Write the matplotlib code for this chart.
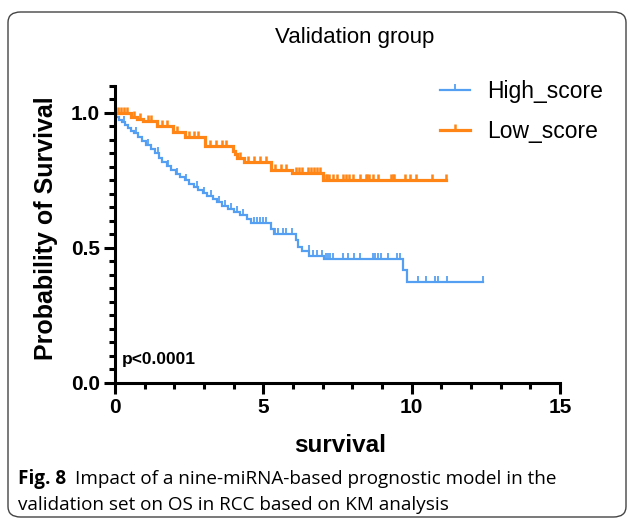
import numpy as np
import matplotlib.pyplot as plt
from matplotlib.patches import FancyBboxPatch
from matplotlib.ticker import MultipleLocator
from matplotlib.lines import Line2D

plt.rcParams['font.family'] = ['Liberation Sans', 'DejaVu Sans']

# High_score group: event times and survival after each event
high_t = [0.05, 0.15, 0.25, 0.35, 0.45, 0.55, 0.65, 0.78, 0.9, 1.05, 1.2, 1.35,
          1.5, 1.6, 1.75, 1.9, 2.05, 2.2, 2.35, 2.5, 2.65, 2.8, 2.95, 3.1, 3.3,
          3.45, 3.6, 3.8, 4.0, 4.2, 4.45, 4.6, 5.25, 5.35, 6.1, 6.16, 6.3, 6.55,
          7.05, 9.72, 9.85]
high_s = [0.985, 0.975, 0.965, 0.955, 0.945, 0.935, 0.925, 0.91, 0.895, 0.88,
          0.865, 0.85, 0.835, 0.82, 0.805, 0.79, 0.775, 0.762, 0.75, 0.737,
          0.725, 0.713, 0.702, 0.691, 0.68, 0.669, 0.657, 0.646, 0.635, 0.622,
          0.608, 0.592, 0.572, 0.552, 0.53, 0.505, 0.49, 0.472, 0.458, 0.42, 0.373]
high_cens = [0.3, 0.7, 1.1, 1.45, 1.8, 2.1, 2.4, 2.75, 3.0, 3.25, 3.5, 3.7, 3.9,
             4.1, 4.3, 4.7, 4.8, 4.9, 5.0, 5.1, 5.4, 5.5, 5.65, 5.78, 5.95,
             6.53, 6.67, 6.8, 6.97, 7.1, 7.18, 7.26, 7.35, 7.7, 7.87, 8.04, 8.26,
             8.7, 8.78, 8.86, 8.95, 9.2, 9.5, 9.6, 10.2, 10.5, 10.8, 10.88, 11.2,
             12.42]
high_end = 12.42

# Low_score group
low_t = [0.55, 0.75, 0.95, 1.4, 1.95, 2.35, 3.05, 3.97, 4.05, 4.12, 4.35,
         5.25, 5.95, 7.0]
low_s = [0.985, 0.978, 0.97, 0.952, 0.93, 0.91, 0.878, 0.86, 0.848, 0.835,
         0.817, 0.79, 0.778, 0.752]
low_cens = [0.1, 0.2, 0.3, 0.4, 0.65, 0.85, 1.1, 1.2, 1.6, 1.75, 2.1, 2.5, 2.65,
            2.8, 3.2, 3.4, 3.6, 3.75, 4.2, 4.5, 4.7, 4.9, 5.1, 5.4, 5.6, 5.78,
            6.1, 6.2, 6.3, 6.5, 6.6, 6.7, 6.8, 6.9, 7.1, 7.15, 7.22, 7.35, 7.47,
            7.7, 7.8, 7.9, 8.02, 8.25, 8.45, 8.5, 8.55, 8.7, 8.86, 9.3, 9.36,
            9.42, 9.76, 9.93, 10.16, 10.7, 11.15]
low_end = 11.15

blue = '#559ff2'
orange = '#ff8517'


def km_line(ax, t, s, cens, end, color, lw):
    tt = np.array([0.0] + t + [end])
    ss = np.array([1.0] + s + [s[-1]])
    ax.step(tt, ss, where='post', color=color, lw=lw, solid_joinstyle='miter')
    idx = np.searchsorted(tt, cens, side='right') - 1
    ax.plot(cens, ss[idx], ls='none', marker=2, ms=4.5, mew=lw * 0.8, color=color)


fig = plt.figure(figsize=(6.29, 5.23), dpi=100)
ax = fig.add_axes([0.1828, 0.2677, 0.7075, 0.5679])

km_line(ax, high_t, high_s, high_cens, high_end, blue, 1.6)
km_line(ax, low_t, low_s, low_cens, low_end, orange, 2.3)

ax.set_xlim(0, 15)
ax.set_ylim(0, 1.1)
ax.set_xticks([0, 5, 10, 15])
ax.set_yticks([0, 0.5, 1.0])
ax.set_yticklabels(['0.0', '0.5', '1.0'])
ax.xaxis.set_minor_locator(MultipleLocator(1))
ax.yaxis.set_minor_locator(MultipleLocator(0.05))
for sp in ['top', 'right']:
    ax.spines[sp].set_visible(False)
for sp in ['left', 'bottom']:
    ax.spines[sp].set_linewidth(2.2)
ax.tick_params(which='major', length=8, width=2.2, labelsize=15, pad=3)
ax.tick_params(which='minor', length=4.5, width=2.2)
for lab in ax.get_xticklabels() + ax.get_yticklabels():
    lab.set_fontweight('bold')

ax.text(0.24, 0.086, 'p<0.0001', fontsize=12.5, fontweight='bold', va='center')

handles = [Line2D([], [], color=blue, lw=1.6, marker=2, ms=4.5, mew=1.3),
           Line2D([], [], color=orange, lw=2.3, marker=2, ms=4.5, mew=1.8)]
ax.legend(handles, ['High_score', 'Low_score'], loc='upper left',
          bbox_to_anchor=(0.705, 1.06), frameon=False, fontsize=16.5,
          handlelength=1.3, handletextpad=0.75, labelspacing=0.75, borderpad=0,
          numpoints=1)

fig.text(355 / 629, 1 - 38 / 523, 'Validation group', ha='center', va='center', fontsize=16)
fig.text(46 / 629, 1 - 228 / 523, 'Probability of Survival', rotation=90,
         ha='center', va='center', fontsize=18, fontweight='bold')
fig.text(340 / 629, 1 - 445 / 523, 'survival', ha='center', va='center',
         fontsize=17.5, fontweight='bold')

# caption
cap_font = ['Open Sans', 'DejaVu Sans']
t1 = fig.text(18 / 629, 1 - 479 / 523, 'Fig. 8', fontsize=13.6, fontweight='bold',
              family=cap_font, va='center')
fig.canvas.draw()
bb = t1.get_window_extent()
fig.text((bb.x1 + 9) / 629, 1 - 479 / 523,
         'Impact of a nine-miRNA-based prognostic model in the',
         fontsize=13.6, family=cap_font, va='center')
fig.text(18 / 629, 1 - 505 / 523, 'validation set on OS in RCC based on KM analysis',
         fontsize=13.6, family=cap_font, va='center')

box = FancyBboxPatch((8 / 629, 1 - 517 / 523), 618 / 629, 505 / 523,
                     boxstyle='round,pad=0,rounding_size=0.02',
                     transform=fig.transFigure, fill=False, ec='#444444', lw=1.0)
fig.patches.append(box)

fig.savefig('out.png', dpi=100)
